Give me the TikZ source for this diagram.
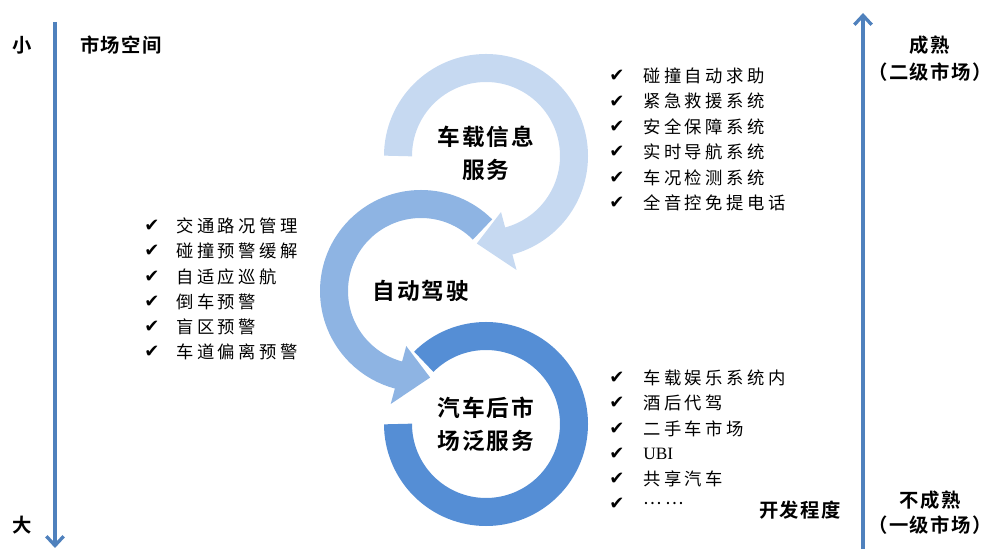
\documentclass[tikz,border=0pt]{standalone}
\usepackage{fontspec}
\setmainfont{Noto Sans CJK SC}
\newfontfamily\cjk[LetterSpace=20]{Noto Sans CJK SC}
\newfontfamily\cjkb[LetterSpace=8,BoldFont={Noto Sans CJK SC Bold}]{Noto Sans CJK SC Bold}
\newfontfamily\sym{DejaVu Sans}
\newfontfamily\lat{Liberation Serif}
\usetikzlibrary{arrows.meta,calc}
\definecolor{cLight}{HTML}{C6D9F1}
\definecolor{cMid}{HTML}{8EB4E3}
\definecolor{cDark}{HTML}{558ED5}
\definecolor{cAxis}{HTML}{4F81BD}
\tikzset{
  band/.style={line width=21pt},
  item/.style={anchor=west,inner sep=0pt,font=\cjk\fontsize{13}{13}\selectfont},
  tick/.style={inner sep=0pt,font=\sym\fontsize{13.5}{13.5}\selectfont},
  title/.style={inner sep=0pt,align=center,font=\cjkb\fontsize{17}{25}\selectfont},
  axlabel/.style={inner sep=0pt,align=center,font=\cjkb\fontsize{14.5}{20}\selectfont},
  axis/.style={draw=cAxis,line width=3pt,-{Straight Barb[length=7pt,width=13pt,line width=2.5pt]}}
}
\begin{document}
\begin{tikzpicture}[x=0.75pt,y=0.75pt]
\useasboundingbox (0,0) rectangle (1003,549);
% bottom circle
\coordinate (cB) at (486,125);
\draw[band,cDark] (cB) ++(135:88) arc[start angle=135,end angle=-180,radius=88];
% middle circle
\coordinate (cM) at (421,258);
\draw[band,cMid] (cM) ++(45:87) arc[start angle=45,end angle=255.5,radius=87];
\fill[cMid] ($(cM)+(255:57)$) -- ($(cM)+(276:87)$) -- ($(cM)+(255:117)$) -- cycle;
% top circle
\coordinate (cT) at (486,393);
\draw[band,cLight] (cT) ++(180:88) arc[start angle=180,end angle=-75.5,radius=88];
\fill[cLight] ($(cT)+(-75:58)$) -- ($(cT)+(-96:88)$) -- ($(cT)+(-75:118)$) -- cycle;
% titles
\node[title] (tT) at (486,396) {车载信息\\服务};
\node[title] (tM) at (421,258) {自动驾驶};
\node[title] (tB) at (486,125) {汽车后市\\场泛服务};
% axes
\coordinate (la) at (55,527);
\coordinate (lb) at (55,1);
\draw[axis] (la) -- (lb);
\coordinate (ra) at (863,0);
\coordinate (rb) at (863,536);
\draw[axis] (ra) -- (rb);
\node[axlabel] (small) at (22,504) {小};
\node[axlabel] (space) at (121,504) {市场空间};
\node[axlabel] (big) at (22,24) {大};
\node[axlabel] (mat) at (930,504) {成熟};
\node[axlabel] (mat2) at (930,477) {（二级市场）};
\node[axlabel] (imm) at (930,49) {不成熟};
\node[axlabel] (imm2) at (930,24) {（一级市场）};
\node[axlabel] (dev) at (800,39) {开发程度};
% top list
\foreach \t [count=\i] in {碰撞自动求助,紧急救援系统,安全保障系统,实时导航系统,车况检测系统,全音控免提电话}{
  \node[tick] (tt\i) at (617,{473-25.4*(\i-1)}) {✔};
  \node[item] (ti\i) at (643,{473-25.4*(\i-1)}) {\t};
}
% left list
\foreach \t [count=\i] in {交通路况管理,碰撞预警缓解,自适应巡航,倒车预警,盲区预警,车道偏离预警}{
  \node[tick] (lt\i) at (152,{323-25.2*(\i-1)}) {✔};
  \node[item] (li\i) at (176,{323-25.2*(\i-1)}) {\t};
}
% bottom list
\foreach \t [count=\i] in {车载娱乐系统内,酒后代驾,二手车市场,{\lat UBI},共享汽车,……}{
  \node[tick] (bt\i) at (617,{171-25.2*(\i-1)}) {✔};
  \node[item] (bi\i) at (643,{171-25.2*(\i-1)}) {\t};
}
\end{tikzpicture}
\end{document}
